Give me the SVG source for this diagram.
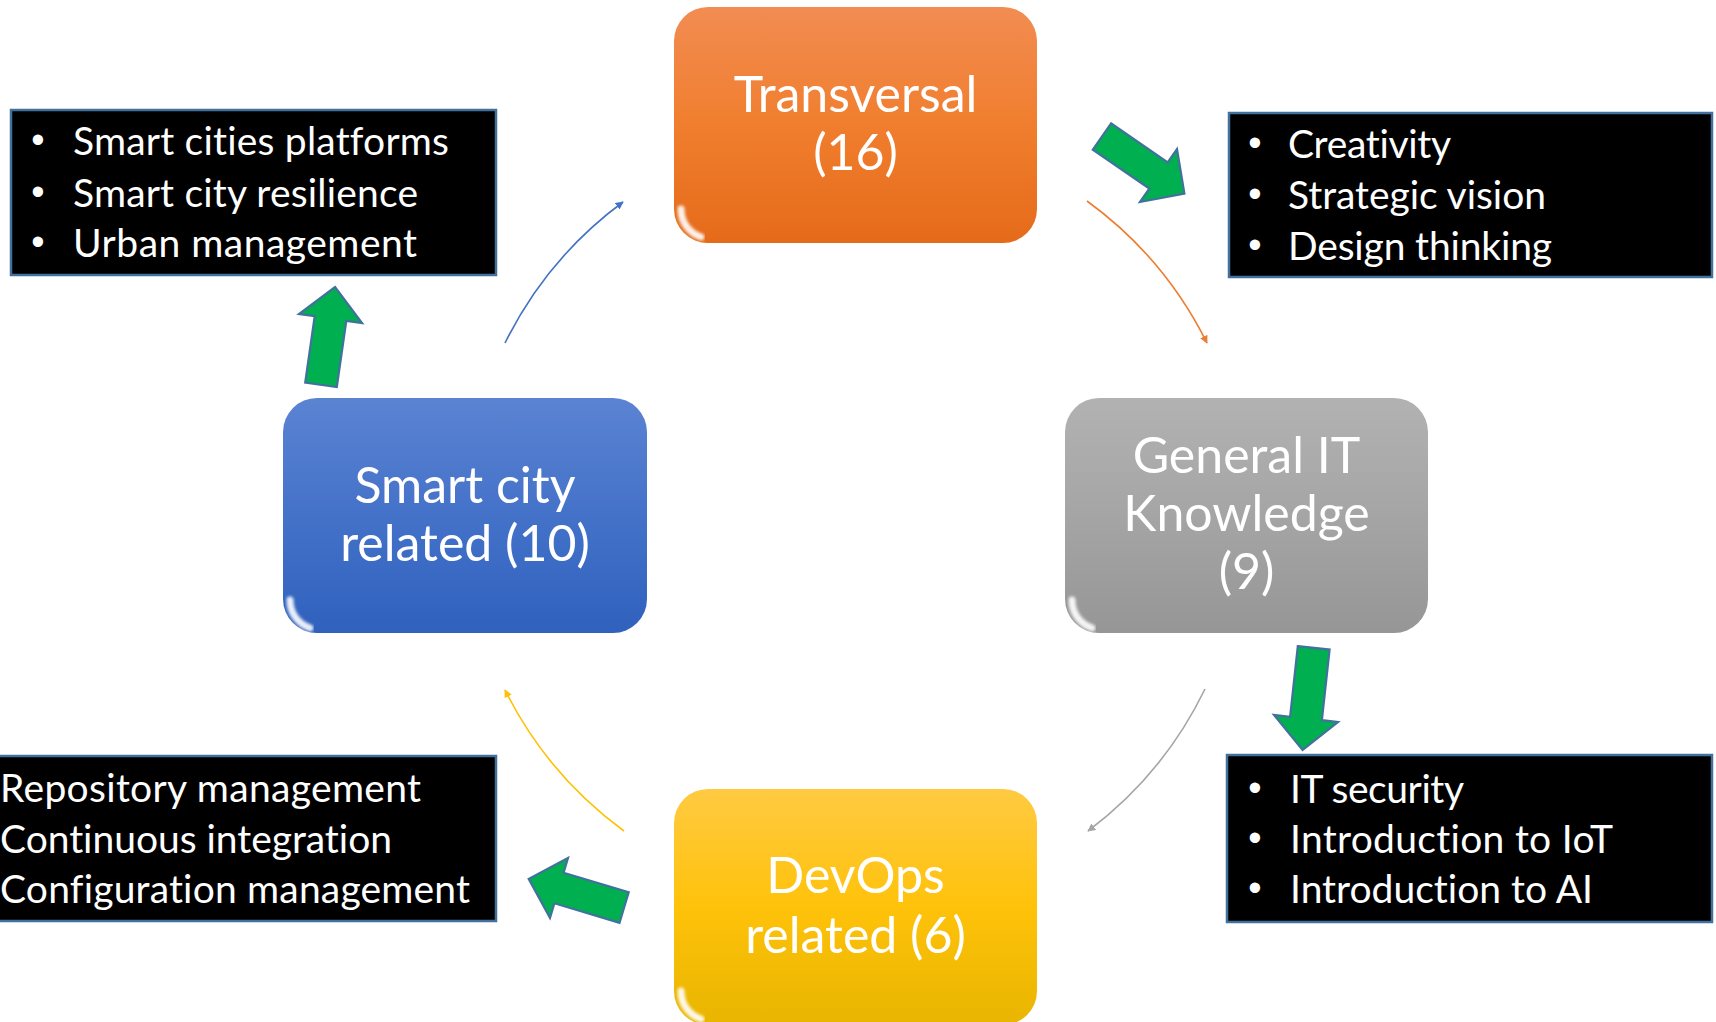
<svg xmlns="http://www.w3.org/2000/svg" width="1716" height="1022" viewBox="0 0 1716 1022">
<style>
.lbl{font-family:Lato,"Open Sans","Liberation Sans",sans-serif;fill:#fff;font-size:50px;text-anchor:middle;font-variant-ligatures:none}
.blt{font-family:Lato,"Open Sans","Liberation Sans",sans-serif;fill:#fff;font-size:39px;font-variant-ligatures:none}
.dot{font-family:"Liberation Sans",Arial,sans-serif;fill:#fff;font-size:38px;text-anchor:middle}
.lst{fill:#000;stroke:#41719C;stroke-width:2.5}
.garrow{fill:#00B050;stroke:#41719C;stroke-width:2.2;stroke-linejoin:miter}
.conn{fill:none;stroke-width:1.6}
.hl{fill:none;stroke:#fff;stroke-linecap:round}
</style>
<defs>
<linearGradient id="gO" x1="0" y1="0" x2="0" y2="1"><stop offset="0" stop-color="#F28C52"/><stop offset="0.5" stop-color="#F07E2E"/><stop offset="1" stop-color="#E56B1A"/></linearGradient>
<linearGradient id="gB" x1="0" y1="0" x2="0" y2="1"><stop offset="0" stop-color="#5B83D2"/><stop offset="0.5" stop-color="#4472C9"/><stop offset="1" stop-color="#2F61BD"/></linearGradient>
<linearGradient id="gG" x1="0" y1="0" x2="0" y2="1"><stop offset="0" stop-color="#B2B2B2"/><stop offset="0.5" stop-color="#A5A5A5"/><stop offset="1" stop-color="#969696"/></linearGradient>
<linearGradient id="gY" x1="0" y1="0" x2="0" y2="1"><stop offset="0" stop-color="#FFCA42"/><stop offset="0.5" stop-color="#FFC20A"/><stop offset="1" stop-color="#E8B500"/></linearGradient>
<filter id="soft" x="-20%" y="-20%" width="140%" height="140%"><feGaussianBlur stdDeviation="1.6"/></filter>
<marker id="mB" viewBox="0 0 10 10" refX="9" refY="5" markerWidth="5" markerHeight="5" orient="auto"><path d="M0,0 L10,5 L0,10 z" fill="#4472C4"/></marker>
<marker id="mO" viewBox="0 0 10 10" refX="9" refY="5" markerWidth="5" markerHeight="5" orient="auto"><path d="M0,0 L10,5 L0,10 z" fill="#ED7D31"/></marker>
<marker id="mG" viewBox="0 0 10 10" refX="9" refY="5" markerWidth="5" markerHeight="5" orient="auto"><path d="M0,0 L10,5 L0,10 z" fill="#A5A5A5"/></marker>
<marker id="mY" viewBox="0 0 10 10" refX="9" refY="5" markerWidth="5" markerHeight="5" orient="auto"><path d="M0,0 L10,5 L0,10 z" fill="#FFC000"/></marker>
<g id="gloss">
<path class="hl" d="M36,7 L327,7" stroke-width="4" opacity="0.55" filter="url(#soft)"/>
<path class="hl" d="M5,40 L5,190" stroke-width="2.5" opacity="0.3" filter="url(#soft)"/>
<path class="hl" d="M358,40 L358,196" stroke-width="3" opacity="0.35" filter="url(#soft)"/>
<path class="hl" d="M7,202 A29,29 0 0 0 27,230" stroke="#FFF3C0" stroke-width="7" opacity="0.9" filter="url(#soft)"/>
</g>
</defs>
<rect width="1716" height="1022" fill="#fff"/>

<g id="connectors">
<path class="conn" stroke="#4472C4" d="M505,343 A391,391 0 0 1 623,202" marker-end="url(#mB)"/>
<path class="conn" stroke="#ED7D31" d="M1087,201 A391,391 0 0 1 1207,343" marker-end="url(#mO)"/>
<path class="conn" stroke="#A5A5A5" d="M1205,689 A391,391 0 0 1 1088,831" marker-end="url(#mG)"/>
<path class="conn" stroke="#FFC000" d="M624,831 A391,391 0 0 1 505,690" marker-end="url(#mY)"/>
<polygon class="garrow" points="335,287 362,323 346.3,320.8 336.8,387.1 305.2,382.5 314.7,316.2 299,314"/>
<polygon class="garrow" points="1111.2,123.4 1167.7,162.4 1177,149 1184.4,193.6 1140,202 1149.3,188.6 1092.8,149.6"/>
<polygon class="garrow" points="1297.8,646.2 1329.6,649.6 1321.9,720.2 1338,722 1302.6,749.9 1274,715 1290.1,716.8"/>
<polygon class="garrow" points="528.7,878.9 568,858 563.6,872.7 628.7,892.3 619.5,922.9 554.4,903.3 550,918"/>
</g>

<g id="node-transversal">
<rect x="674" y="7" width="363" height="236" rx="34" fill="url(#gO)"/>
<use href="#gloss" x="674" y="7"/>
<text class="lbl" x="855.5" y="112">Transversal</text>
<text class="lbl" x="855.5" y="170">(16)</text>
</g>

<g id="node-smartcity">
<rect x="283" y="398" width="364" height="235" rx="34" fill="url(#gB)"/>
<use href="#gloss" x="283" y="398"/>
<text class="lbl" x="465" y="503">Smart city</text>
<text class="lbl" x="465" y="561">related (10)</text>
</g>

<g id="node-generalit">
<rect x="1065" y="398" width="363" height="235" rx="34" fill="url(#gG)"/>
<use href="#gloss" x="1065" y="398"/>
<text class="lbl" x="1246.5" y="473">General IT</text>
<text class="lbl" x="1246.5" y="531">Knowledge</text>
<text class="lbl" x="1246.5" y="589">(9)</text>
</g>

<g id="node-devops">
<rect x="674" y="789" width="363" height="236" rx="34" fill="url(#gY)"/>
<use href="#gloss" x="674" y="789"/>
<text class="lbl" x="855.5" y="893">DevOps</text>
<text class="lbl" x="855.5" y="953">related (6)</text>
</g>

<g id="list-smartcity">
<rect class="lst" x="11" y="110" width="485" height="165"/>
<text class="dot" x="38" y="153">•</text><text class="blt" x="73" y="155" textLength="376" lengthAdjust="spacing">Smart cities platforms</text>
<text class="dot" x="38" y="205">•</text><text class="blt" x="73" y="207" textLength="345" lengthAdjust="spacing">Smart city resilience</text>
<text class="dot" x="38" y="255">•</text><text class="blt" x="73" y="257" textLength="344" lengthAdjust="spacing">Urban management</text>
</g>

<g id="list-transversal">
<rect class="lst" x="1229" y="113" width="483" height="164"/>
<text class="dot" x="1255" y="156">•</text><text class="blt" x="1288" y="158" textLength="163" lengthAdjust="spacing">Creativity</text>
<text class="dot" x="1255" y="207">•</text><text class="blt" x="1288" y="209" textLength="258" lengthAdjust="spacing">Strategic vision</text>
<text class="dot" x="1255" y="258">•</text><text class="blt" x="1288" y="260" textLength="264" lengthAdjust="spacing">Design thinking</text>
</g>

<g id="list-generalit">
<rect class="lst" x="1227" y="755" width="485" height="167"/>
<text class="dot" x="1255" y="801">•</text><text class="blt" x="1290" y="803" textLength="174" lengthAdjust="spacing">IT security</text>
<text class="dot" x="1255" y="851">•</text><text class="blt" x="1290" y="853" textLength="323" lengthAdjust="spacing">Introduction to IoT</text>
<text class="dot" x="1255" y="901">•</text><text class="blt" x="1290" y="903" textLength="303" lengthAdjust="spacing">Introduction to AI</text>
</g>

<g id="list-devops">
<rect class="lst" x="-20" y="756" width="516" height="165"/>
<text class="blt" x="0" y="802" textLength="421" lengthAdjust="spacing">Repository management</text>
<text class="blt" x="0" y="853" textLength="392" lengthAdjust="spacing">Continuous integration</text>
<text class="blt" x="0" y="903" textLength="470" lengthAdjust="spacing">Configuration management</text>
</g>
</svg>
